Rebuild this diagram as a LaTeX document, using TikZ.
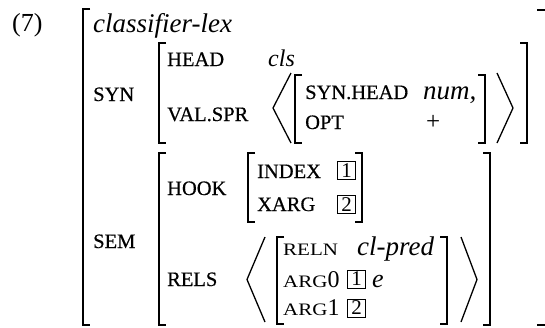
\documentclass[tikz,border=0pt]{standalone}
\usepackage{fontspec}
\setmainfont{Liberation Serif}
\newfontfamily\featfont{Liberation Serif}[FakeBold=0.5]
\usepackage{graphicx}

% Square brackets of an attribute-value matrix: left x, top y, right x, bottom y
\newcommand\avmbrackets[4]{%
  \draw[brk] (#1+7,#2) -- (#1,#2) -- (#1,#4) -- (#1+7,#4);
  \draw[brk] (#3-7,#2) -- (#3,#2) -- (#3,#4) -- (#3-7,#4);}
% Angle brackets of a list: left vertex x, right vertex x, top y, bottom y
\newcommand\listangles[4]{%
  \draw[ang] (#1+18,#3) -- (#1,{(#3+#4)/2}) -- (#1+18,#4);
  \draw[ang] (#2-16,#3) -- (#2,{(#3+#4)/2}) -- (#2-16,#4);}
% Small-capital feature name
\newcommand\scname[1]{\scalebox{1.2}[1]{\fontsize{17.5}{17.5}\selectfont #1}}

\begin{document}
\begin{tikzpicture}[x=1pt,y=-1pt,
  brk/.style={line width=1.3pt},
  ang/.style={line width=1.3pt, line join=miter},
  lbl/.style={anchor=base west, inner sep=0pt, font=\featfont\fontsize{20.5}{20.5}\selectfont},
  sclbl/.style={anchor=base west, inner sep=0pt, font=\rmfamily},
  val/.style={anchor=base west, inner sep=0pt, font=\fontsize{27}{27}\selectfont\itshape},
  rm/.style={anchor=base west, inner sep=0pt, font=\fontsize{26}{26}\selectfont},
  tagbox/.style={draw, line width=0.8pt, minimum width=18pt, minimum height=18pt,
    inner sep=0pt, font=\fontsize{21}{21}\selectfont},
]
\useasboundingbox (0,0) rectangle (545,327);

% example number
\node[rm] (num7) at (12,31) {(7)};

% outermost matrix (its right edge lies just past the page, only the ends show)
\draw[brk] (90,9) -- (83,9) -- (83,325) -- (90,325);
\draw[brk] (537,10) -- (546.2,10) -- (546.2,325) -- (537,325);
\node[val] (type) at (93,32) {classifier-lex};

% SYN
\node[lbl] (syn) at (93,101) {SYN};
\avmbrackets{159}{43}{527}{143}
\node[lbl] (head) at (167,66) {HEAD};
\node[val, font=\fontsize{24}{24}\selectfont\itshape] (cls) at (268,66) {cls};
\node[lbl] (valspr) at (167,121) {VAL.SPR};
\listangles{273}{513}{73}{143}
\avmbrackets{295}{75}{485}{143}
\node[lbl] (synhead) at (305,99) {SYN.HEAD};
\node[val] (numv) at (423,99) {num,};
\node[lbl] (opt) at (305,129) {OPT};
\node[rm, font=\fontsize{25}{25}\selectfont] (plus) at (426,129) {+};

% SEM
\node[lbl] (sem) at (93,248) {SEM};
\avmbrackets{159}{153}{490}{325}
\node[lbl] (hook) at (167,195) {HOOK};
\avmbrackets{248}{153}{362}{222}
\node[lbl] (index) at (257,178) {INDEX};
\node[tagbox] (tagA) at (346.5,170.5) {1};
\node[lbl] (xarg) at (257,211) {XARG};
\node[tagbox] (tagB) at (346.5,204.5) {2};

\node[lbl] (rels) at (167,286) {RELS};
\listangles{247}{477}{237}{322}
\avmbrackets{277}{237}{447}{324}
\node[sclbl] (reln) at (283,255) {\scname{RELN}};
\node[val] (pred) at (357,255) {cl-pred};
\node[sclbl] (argzero) at (283,287) {\scname{ARG}\fontsize{24}{24}\selectfont 0};
\node[tagbox] (tagC) at (356.5,279) {1};
\node[val, font=\fontsize{26}{26}\selectfont\itshape] (evar) at (372,287) {e};
\node[sclbl] (argone) at (283,315) {\scname{ARG}\fontsize{24}{24}\selectfont 1};
\node[tagbox] (tagD) at (356.5,308) {2};
\end{tikzpicture}
\end{document}
